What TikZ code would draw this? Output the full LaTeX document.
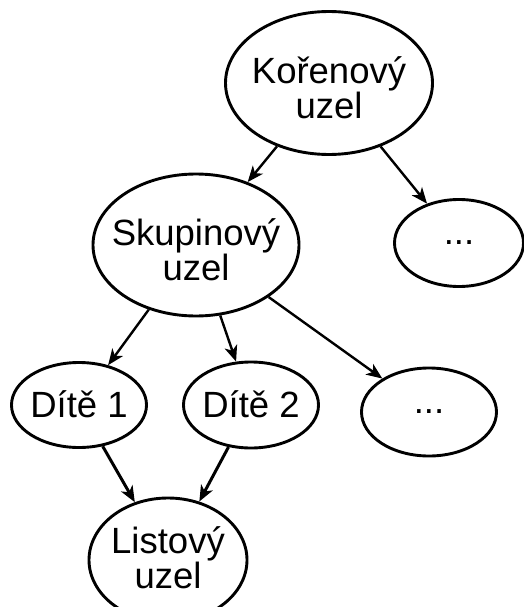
\documentclass[tikz,border=0pt]{standalone}
\usepackage{fontspec}
\setmainfont{Liberation Sans}
\usetikzlibrary{shapes.geometric,arrows.meta}
\begin{document}
\begin{tikzpicture}[x=1pt,y=-1pt,
  oval/.style={draw, ellipse, line width=2.9pt, inner sep=0pt},
  lbl/.style={align=center, font=\fontsize{36.5}{34}\selectfont, inner sep=0pt},
  edge/.style={line width=2.4pt, -{Stealth[length=16pt,width=13pt,inset=4.5pt]}},
  edgeb/.style={edge, line width=3pt}]
\useasboundingbox (0,0) rectangle (524,607);

% tree nodes: outlines
\node[oval, minimum width=207pt, minimum height=143pt] (root)  at (329,83)  {};
\node[oval, minimum width=129pt, minimum height=87pt]  (more1) at (459,243) {};
\node[oval, minimum width=206pt, minimum height=142pt] (group) at (196,245) {};
\node[oval, minimum width=135pt, minimum height=85pt]  (kid1)  at (79,405)  {};
\node[oval, minimum width=135pt, minimum height=86pt]  (kid2)  at (251,405) {};
\node[oval, minimum width=135pt, minimum height=88pt]  (more2) at (429,412) {};
\node[oval, minimum width=158pt, minimum height=124pt] (leaf)  at (168,560) {};

% tree nodes: texts
\node[lbl] (roott)  at ([yshift=-4.5pt]root.center)  {Kořenový\\uzel};
\node[lbl] (more1t) at (more1.center) {...};
\node[lbl] (groupt) at ([yshift=-4.5pt]group.center) {Skupinový\\uzel};
\node[lbl] (kid1t)  at ([yshift=1pt]kid1.center)  {Dítě 1};
\node[lbl] (kid2t)  at ([yshift=1pt]kid2.center)  {Dítě 2};
\node[lbl] (more2t) at (more2.center) {...};
\node[lbl] (leaft)  at ([yshift=2pt]leaf.center)  {Listový\\uzel};

% connectors
\draw[edge] (root) -- (group);
\draw[edge] (root) -- (more1);
\draw[edge] (group) -- (kid1);
\draw[edge] (group) -- (kid2);
\draw[edge] (group) -- (more2);
\draw[edgeb] (kid1) -- (leaf);
\draw[edgeb] (kid2) -- (leaf);
\end{tikzpicture}
\end{document}
